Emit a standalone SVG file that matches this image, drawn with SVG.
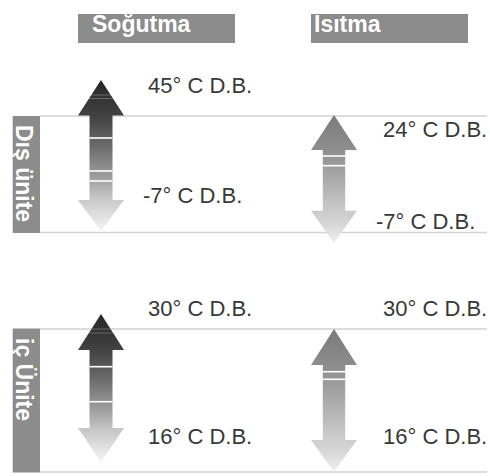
<svg xmlns="http://www.w3.org/2000/svg" width="490" height="476" viewBox="0 0 490 476">
<style>
.hdr{fill:#8c8c8c}
.hdrt{font-family:"Liberation Sans",Arial,sans-serif;font-size:23px;font-weight:bold;fill:#ffffff}
.val{font-family:"Liberation Sans",Arial,sans-serif;font-size:22px;fill:#383838}
.sep{stroke:#d2d2d2;stroke-width:1.5;fill:none}
.stripe{stroke:#ffffff;stroke-width:1.6}
.faint{stroke:#ffffff;stroke-width:1;opacity:0.25}
</style>
<defs>
<linearGradient id="gDark" x1="0" y1="0" x2="0" y2="1">
<stop offset="0" stop-color="#262626"/>
<stop offset="0.25" stop-color="#434343"/>
<stop offset="0.45" stop-color="#6e6e6e"/>
<stop offset="0.66" stop-color="#a2a2a2"/>
<stop offset="0.78" stop-color="#c6c6c6"/>
<stop offset="0.86" stop-color="#d8d8d8"/>
<stop offset="1" stop-color="#f4f4f4"/>
</linearGradient>
<linearGradient id="gLight" x1="0" y1="0" x2="0" y2="1">
<stop offset="0" stop-color="#7a7a7a"/>
<stop offset="0.28" stop-color="#8f8f8f"/>
<stop offset="0.5" stop-color="#aaaaaa"/>
<stop offset="0.75" stop-color="#cbcbcb"/>
<stop offset="0.85" stop-color="#d6d6d6"/>
<stop offset="1" stop-color="#f0f0f0"/>
</linearGradient>
</defs>
<rect width="490" height="476" fill="#ffffff"/>

<g id="headers">
<g id="sogutma">
<rect class="hdr" x="78" y="14" width="157" height="29"/>
<text class="hdrt" x="92" y="32">Soğutma</text>
</g>
<g id="isitma">
<rect class="hdr" x="311" y="14" width="157" height="29"/>
<text class="hdrt" x="314" y="32">Isıtma</text>
</g>
</g>

<g id="separators">
<line class="sep" x1="40" y1="116" x2="487" y2="116"/>
<line class="sep" x1="40" y1="232.5" x2="487" y2="232.5"/>
<line class="sep" x1="40" y1="329" x2="487" y2="329"/>
<line class="sep" x1="40" y1="472" x2="487" y2="472"/>
</g>

<g id="dis-unite">
<rect class="hdr" x="12.7" y="116" width="27.3" height="117"/>
<text class="hdrt" transform="translate(15.5,125) rotate(90)">Dış ünite</text>
</g>
<g id="ic-unite">
<rect class="hdr" x="12.7" y="328.5" width="27.3" height="144"/>
<text class="hdrt" transform="translate(15.5,338) rotate(90)">iç Ünite</text>
</g>

<g id="arrows">
<g id="arrow-cool-outdoor">
<path fill="url(#gDark)" d="M101,80 L124,115.5 L112.5,115.5 L112.5,200 L124,200 L101,231 L78,200 L89.5,200 L89.5,115.5 L78,115.5 Z"/>
<line class="faint" x1="91" y1="95" x2="111" y2="95"/>
<line class="faint" x1="89" y1="98.5" x2="113" y2="98.5"/>
<line class="stripe" x1="89.5" y1="138" x2="112.5" y2="138"/>
<line class="stripe" x1="89.5" y1="171" x2="112.5" y2="171"/>
<line class="stripe" x1="89.5" y1="181" x2="112.5" y2="181"/>
</g>
<g id="arrow-heat-outdoor">
<path fill="url(#gLight)" d="M334,115 L357,150 L345.2,150 L345.2,210.7 L357,210.7 L334,243 L311,210.7 L322.8,210.7 L322.8,150 L311,150 Z"/>
<line class="stripe" x1="322.8" y1="156" x2="345.2" y2="156"/>
<line class="stripe" x1="322.8" y1="165.7" x2="345.2" y2="165.7"/>
</g>
<g id="arrow-cool-indoor">
<path fill="url(#gDark)" d="M101,314 L124,350 L112.5,350 L112.5,428 L124,428 L101,462 L78,428 L89.5,428 L89.5,350 L78,350 Z"/>
<line class="faint" x1="91" y1="329" x2="111" y2="329"/>
<line class="faint" x1="89" y1="333" x2="113" y2="333"/>
<line class="stripe" x1="89.5" y1="366.7" x2="112.5" y2="366.7"/>
<line class="stripe" x1="89.5" y1="401.7" x2="112.5" y2="401.7"/>
</g>
<g id="arrow-heat-indoor">
<path fill="url(#gLight)" d="M334,329 L357,365 L345.2,365 L345.2,440 L357,440 L334,472 L311,440 L322.8,440 L322.8,365 L311,365 Z"/>
<line class="stripe" x1="322.8" y1="371.7" x2="345.2" y2="371.7"/>
<line class="stripe" x1="322.8" y1="379.3" x2="345.2" y2="379.3"/>
</g>
</g>

<g id="labels">
<text class="val" x="148" y="93">45° C D.B.</text>
<text class="val" x="143" y="203">-7° C D.B.</text>
<text class="val" x="383" y="137">24° C D.B.</text>
<text class="val" x="376" y="229">-7° C D.B.</text>
<text class="val" x="148" y="316">30° C D.B.</text>
<text class="val" x="148" y="444">16° C D.B.</text>
<text class="val" x="383" y="316">30° C D.B.</text>
<text class="val" x="383" y="444">16° C D.B.</text>
</g>
</svg>
